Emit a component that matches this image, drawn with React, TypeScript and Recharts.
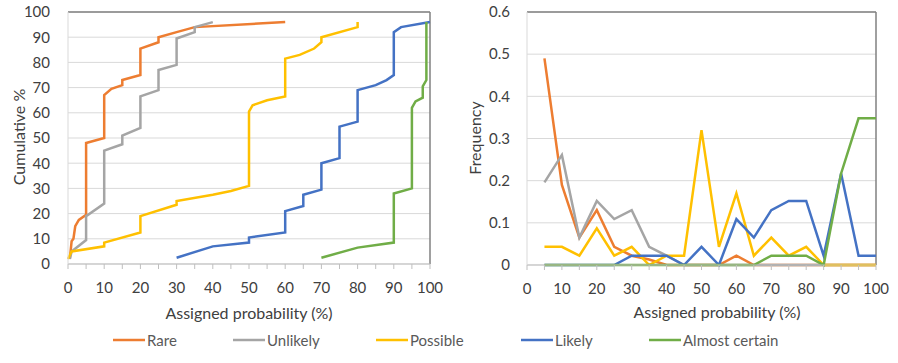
import React from 'react';
import { LineChart, Line, XAxis, YAxis, CartesianGrid, ReferenceLine } from 'recharts';

// cumulative curves: assigned probability (%) vs cumulative %
const rareProb = [0.5, 1, 1.5, 2, 3, 5, 5, 10, 10, 12, 15, 15, 20, 20, 25, 25, 30, 35, 60];
const rareCum = [2, 9, 10, 15, 17.5, 19.5, 48, 50, 67, 69.5, 71, 73, 75, 85.5, 88, 90, 92, 94, 96];

const unlikelyProb = [0.5, 1, 5, 5, 10, 10, 15, 15, 20, 20, 25, 25, 30, 30, 35, 35, 40];
const unlikelyCum = [2, 5, 9.5, 19, 24, 45, 47.5, 51, 54, 66.5, 69, 77, 79, 89.5, 92, 94, 96];

const possibleProb = [0, 1, 10, 10, 20, 20, 30, 30, 40, 45, 50, 50, 51, 55, 60, 60, 64, 68, 70, 70, 80, 80];
const possibleCum = [2, 5, 7, 8.5, 12.5, 19, 23.5, 25, 27.5, 29, 31, 60.5, 63, 65, 66.5, 81.5, 83, 85.5, 88, 90, 94, 96];

const likelyProb = [30, 40, 50, 50, 60, 60, 65, 65, 70, 70, 75, 75, 80, 80, 85, 88, 90, 90, 92, 100];
const likelyCum = [2.5, 7, 8.5, 10.5, 12.5, 21, 23, 27.5, 29.5, 40, 42, 54.5, 56.5, 69, 71, 73, 75, 92, 94, 96];

const certainProb = [70, 80, 90, 90, 95, 95, 96, 98, 98, 99, 99];
const certainCum = [2.5, 6.5, 8.5, 28, 30, 62, 64.5, 66, 70.5, 73, 96];

// frequency per 5% bin
const bins = [5, 10, 15, 20, 25, 30, 35, 40, 45, 50, 55, 60, 65, 70, 75, 80, 85, 90, 95, 100];
const rareFreq = [0.49, 0.19, 0.065, 0.13, 0.043, 0.022, 0.013, 0, 0, 0, 0, 0.022, 0, 0, 0, 0, 0, 0, 0, 0];
const unlikelyFreq = [0.196, 0.261, 0.065, 0.152, 0.109, 0.13, 0.043, 0.022, 0, 0, 0, 0, 0, 0, 0, 0, 0, 0, 0, 0];
const possibleFreq = [0.043, 0.043, 0.022, 0.087, 0.022, 0.043, 0, 0.022, 0.022, 0.32, 0.043, 0.17, 0.022, 0.065, 0.022, 0.043, 0, 0, 0, 0];
const likelyFreq = [0, 0, 0, 0, 0, 0.022, 0.022, 0.022, 0, 0.043, 0, 0.109, 0.065, 0.13, 0.152, 0.152, 0.022, 0.217, 0.022, 0.022];
const certainFreq = [0, 0, 0, 0, 0, 0, 0, 0, 0, 0, 0, 0, 0, 0.022, 0.022, 0.022, 0, 0.217, 0.348, 0.348];

const xTicks = [0, 5, 10, 15, 20, 25, 30, 35, 40, 45, 50, 55, 60, 65, 70, 75, 80, 85, 90, 95, 100];
const cumTicks = [0, 10, 20, 30, 40, 50, 60, 70, 80, 90, 100];
const freqTicks = [0, 0.1, 0.2, 0.3, 0.4, 0.5, 0.6];

const seriesNames = ['Rare', 'Unlikely', 'Possible', 'Likely', 'Almost certain'];
const seriesColors = ['#ED7D31', '#A5A5A5', '#FFC000', '#4472C4', '#70AD47'];

const zip = (xs: number[], ys: number[]) => xs.map((x, i) => ({ x, y: ys[i] }));

const cumSeries = [
  zip(rareProb, rareCum),
  zip(unlikelyProb, unlikelyCum),
  zip(possibleProb, possibleCum),
  zip(likelyProb, likelyCum),
  zip(certainProb, certainCum),
];

const freqKeys = ['rare', 'unlikely', 'possible', 'likely', 'certain'];
const freqData = bins.map((bin, i) => ({
  bin,
  rare: rareFreq[i],
  unlikely: unlikelyFreq[i],
  possible: possibleFreq[i],
  likely: likelyFreq[i],
  certain: certainFreq[i],
}));

const FONT = 'Lato, "Open Sans", sans-serif';
const tickStyle = { fill: '#404040', fontSize: 15, fontFamily: FONT };
const xFmt = (v: number) => (v % 10 === 0 ? String(v) : '');

// legend layout (left edge of each marker)
const legendX = [113, 233, 376, 521, 649];

export default function App() {
  return (
    <div style={{ position: 'absolute', left: 0, top: 0, width: 898, height: 363, background: '#fff', fontFamily: FONT }}>
      <div style={{ position: 'absolute', left: 0, top: 0 }}>
        <LineChart width={450} height={300} margin={{ top: 12, right: 20, bottom: 6, left: 0 }}>
          <CartesianGrid vertical={false} stroke="#D9D9D9" />
          <XAxis
            type="number"
            dataKey="x"
            domain={[0, 100]}
            ticks={xTicks}
            interval={0}
            tickFormatter={xFmt}
            stroke="#BFBFBF"
            tickSize={5}
            tickMargin={13}
            height={30}
            tick={tickStyle}
          />
          <YAxis
            type="number"
            domain={[0, 100]}
            ticks={cumTicks}
            interval={0}
            width={68}
            tickLine={false}
            tickSize={0}
            tickMargin={18}
            axisLine={{ stroke: '#D9D9D9' }}
            tick={tickStyle}
          />
          <ReferenceLine y={100} stroke="#808080" strokeWidth={1.5} />
          <ReferenceLine x={100} stroke="#808080" strokeWidth={1.5} />
          {cumSeries.map((data, i) => (
            <Line
              key={seriesNames[i]}
              data={data}
              dataKey="y"
              name={seriesNames[i]}
              type="linear"
              stroke={seriesColors[i]}
              strokeWidth={2.5}
              dot={false}
              isAnimationActive={false}
            />
          ))}
        </LineChart>
      </div>

      <div style={{ position: 'absolute', left: 450, top: 0 }}>
        <LineChart width={448} height={301} data={freqData} margin={{ top: 12, right: 22, bottom: 6, left: 0 }}>
          <CartesianGrid vertical={false} stroke="#D9D9D9" />
          <XAxis
            type="number"
            dataKey="bin"
            domain={[0, 100]}
            ticks={xTicks}
            interval={0}
            tickFormatter={xFmt}
            stroke="#BFBFBF"
            tickSize={5}
            tickMargin={13}
            height={30}
            tick={tickStyle}
          />
          <YAxis
            type="number"
            domain={[0, 0.6]}
            ticks={freqTicks}
            interval={0}
            width={77}
            tickLine={false}
            tickSize={0}
            tickMargin={17}
            axisLine={{ stroke: '#D9D9D9' }}
            tick={tickStyle}
          />
          <ReferenceLine y={0.6} stroke="#808080" strokeWidth={1.5} />
          <ReferenceLine x={100} stroke="#808080" strokeWidth={1.5} />
          {freqKeys.map((k, i) => (
            <Line
              key={k}
              dataKey={k}
              name={seriesNames[i]}
              type="linear"
              stroke={seriesColors[i]}
              strokeWidth={2.5}
              dot={false}
              isAnimationActive={false}
            />
          ))}
        </LineChart>
      </div>

      <svg width={898} height={363} style={{ position: 'absolute', left: 0, top: 0, pointerEvents: 'none' }}>
        <g fontFamily={FONT} fill="#404040" fontSize={16}>
          <text x={18} y={137} textAnchor="middle" dominantBaseline="central" transform="rotate(-90 18 137)">
            Cumulative %
          </text>
          <text x={474} y={138} textAnchor="middle" dominantBaseline="central" transform="rotate(-90 474 138)">
            Frequency
          </text>
          <text x={249} y={312} textAnchor="middle" dominantBaseline="central">
            Assigned probability (%)
          </text>
          <text x={717} y={311} textAnchor="middle" dominantBaseline="central">
            Assigned probability (%)
          </text>
        </g>
        {seriesNames.map((name, i) => (
          <g key={name}>
            <line x1={legendX[i]} x2={legendX[i] + 32} y1={340} y2={340} stroke={seriesColors[i]} strokeWidth={2.5} />
            <text
              x={legendX[i] + 34}
              y={340}
              dominantBaseline="central"
              fontFamily={FONT}
              fontSize={15}
              fill="#595959"
            >
              {name}
            </text>
          </g>
        ))}
      </svg>
    </div>
  );
}
